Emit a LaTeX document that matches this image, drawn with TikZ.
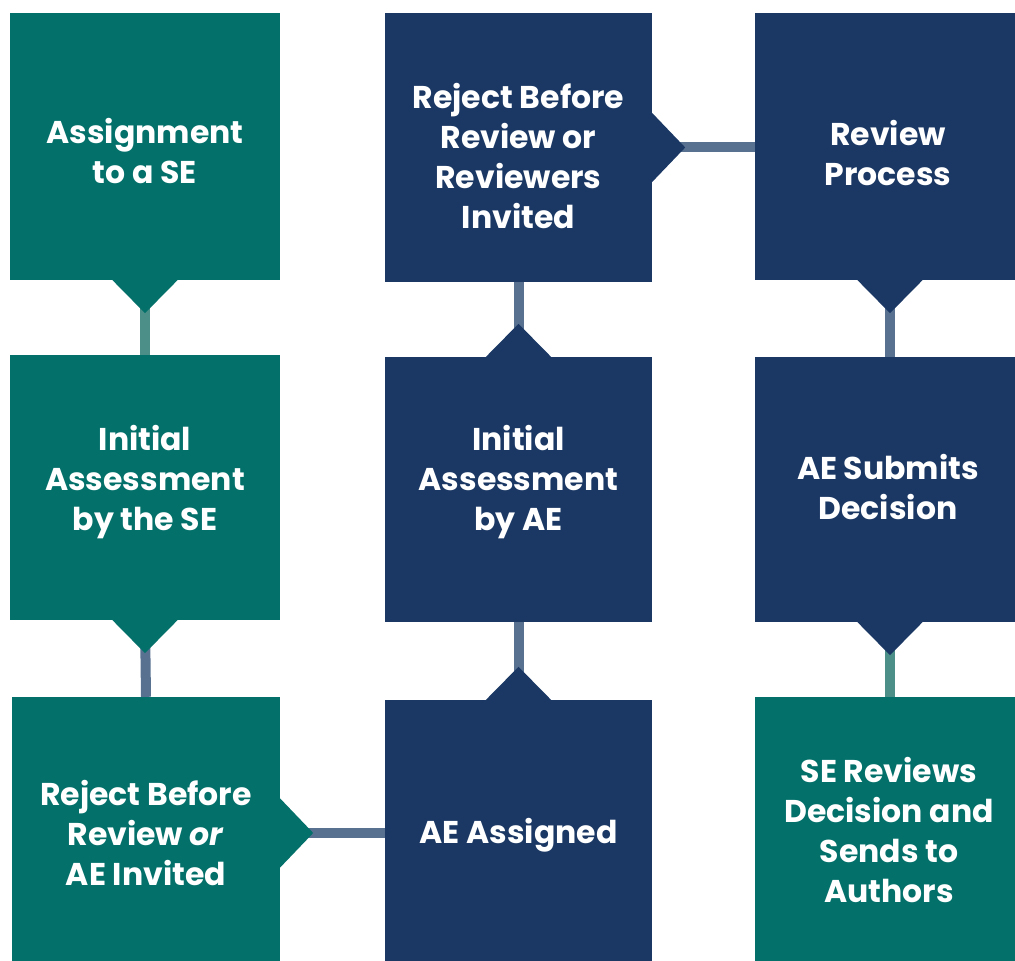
\documentclass[tikz,border=0pt]{standalone}
\usepackage{fontspec}
\setmainfont{Poppins}
\usepackage{tikz}
\usetikzlibrary{calc}

\definecolor{segreen}{HTML}{04706A}
\definecolor{aeblue}{HTML}{1B3864}
\definecolor{greenline}{HTML}{4C8F88}
\definecolor{blueline}{HTML}{587191}

\tikzset{
	stagebox/.style={minimum width=270pt,minimum height=267pt,inner sep=0pt},
	sebox/.style={stagebox,fill=segreen},
	aebox/.style={stagebox,fill=aeblue},
	stagetext/.style={inner sep=0pt,text=white,align=center,
		font=\bfseries\fontsize{31.5}{40}\selectfont},
	link/.style={line width=10pt}
}
% notch macros: colour, node (, offset)
\newcommand{\notchdown}[2]{\fill[#1] ($(#2.south)+(-33,0.5)$) -- ($(#2.south)+(0,-33)$) -- ($(#2.south)+(33,0.5)$) -- cycle;}
\newcommand{\notchup}[2]{\fill[#1] ($(#2.north)+(-33,-0.5)$) -- ($(#2.north)+(0,33)$) -- ($(#2.north)+(33,-0.5)$) -- cycle;}
\newcommand{\notchright}[3]{\fill[#1] ($(#2.east)+(-0.5,#3+35)$) -- ($(#2.east)+(33,#3)$) -- ($(#2.east)+(-0.5,#3-35)$) -- cycle;}

\begin{document}
\begin{tikzpicture}[x=1pt,y=1pt]
	\useasboundingbox (0,0) rectangle (1015,961);
	\clip (0,0) rectangle (1015,961);
	% first column
	\node[sebox,label={[stagetext,yshift=-5pt]center:Assignment\\to a SE}] (assign) at (145,814.5) {};
	\node[sebox,minimum height=265pt,label={[stagetext,yshift=5pt]center:Initial\\Assessment\\by the SE}] (initse) at (145,473.5) {};
	\node[sebox,minimum width=268pt,minimum height=272pt,label={[stagetext]center:Reject Before\\Review \textit{or}\\AE Invited}] (rejae) at (146,128) {};
	% second column
	\node[aebox,minimum width=267pt,minimum height=269pt,label={[stagetext,yshift=-9pt]center:Reject Before\\Review or\\Reviewers\\Invited}] (rejrev) at (518.5,813.5) {};
	\node[aebox,minimum width=267pt,minimum height=265pt,label={[stagetext,yshift=7pt]center:Initial\\Assessment\\by AE}] (initae) at (518.5,471.5) {};
	\node[aebox,minimum width=267pt,minimum height=269pt,label={[stagetext,yshift=-1pt]center:AE Assigned}] (aeass) at (518.5,126.5) {};
	% third column
	\node[aebox,label={[stagetext,xshift=-2pt,yshift=-7pt]center:Review\\Process}] (review) at (890,814.5) {};
	\node[aebox,minimum height=265pt,label={[stagetext,xshift=-2pt,yshift=2pt]center:AE Submits\\Decision}] (aesub) at (890,471.5) {};
	\node[sebox,minimum height=272pt,label={[stagetext,xshift=-1pt,yshift=3pt]center:SE Reviews\\Decision and\\Sends to\\Authors}] (sereview) at (890,128) {};

	% connectors
	\draw[link,greenline] (assign.south) -- (initse.north);
	\draw[link,blueline] (initse.south) -- (rejae.north);
	\draw[link,blueline] (rejae.east) -- (rejae.east -| aeass.west);
	\draw[link,blueline] (aeass.north) -- (initae.south);
	\draw[link,blueline] (initae.north) -- (rejrev.south);
	\draw[link,blueline] (rejrev.east) -- (rejrev.east -| review.west);
	\draw[link,blueline] (review.south) -- (aesub.north);
	\draw[link,greenline] (aesub.south) -- (sereview.north);

	% notches
	\notchdown{segreen}{assign}
	\notchdown{segreen}{initse}
	\notchright{segreen}{rejae}{0}
	\notchup{aeblue}{aeass}
	\notchup{aeblue}{initae}
	\notchright{aeblue}{rejrev}{0}
	\notchdown{aeblue}{review}
	\notchdown{aeblue}{aesub}
\end{tikzpicture}
\end{document}
